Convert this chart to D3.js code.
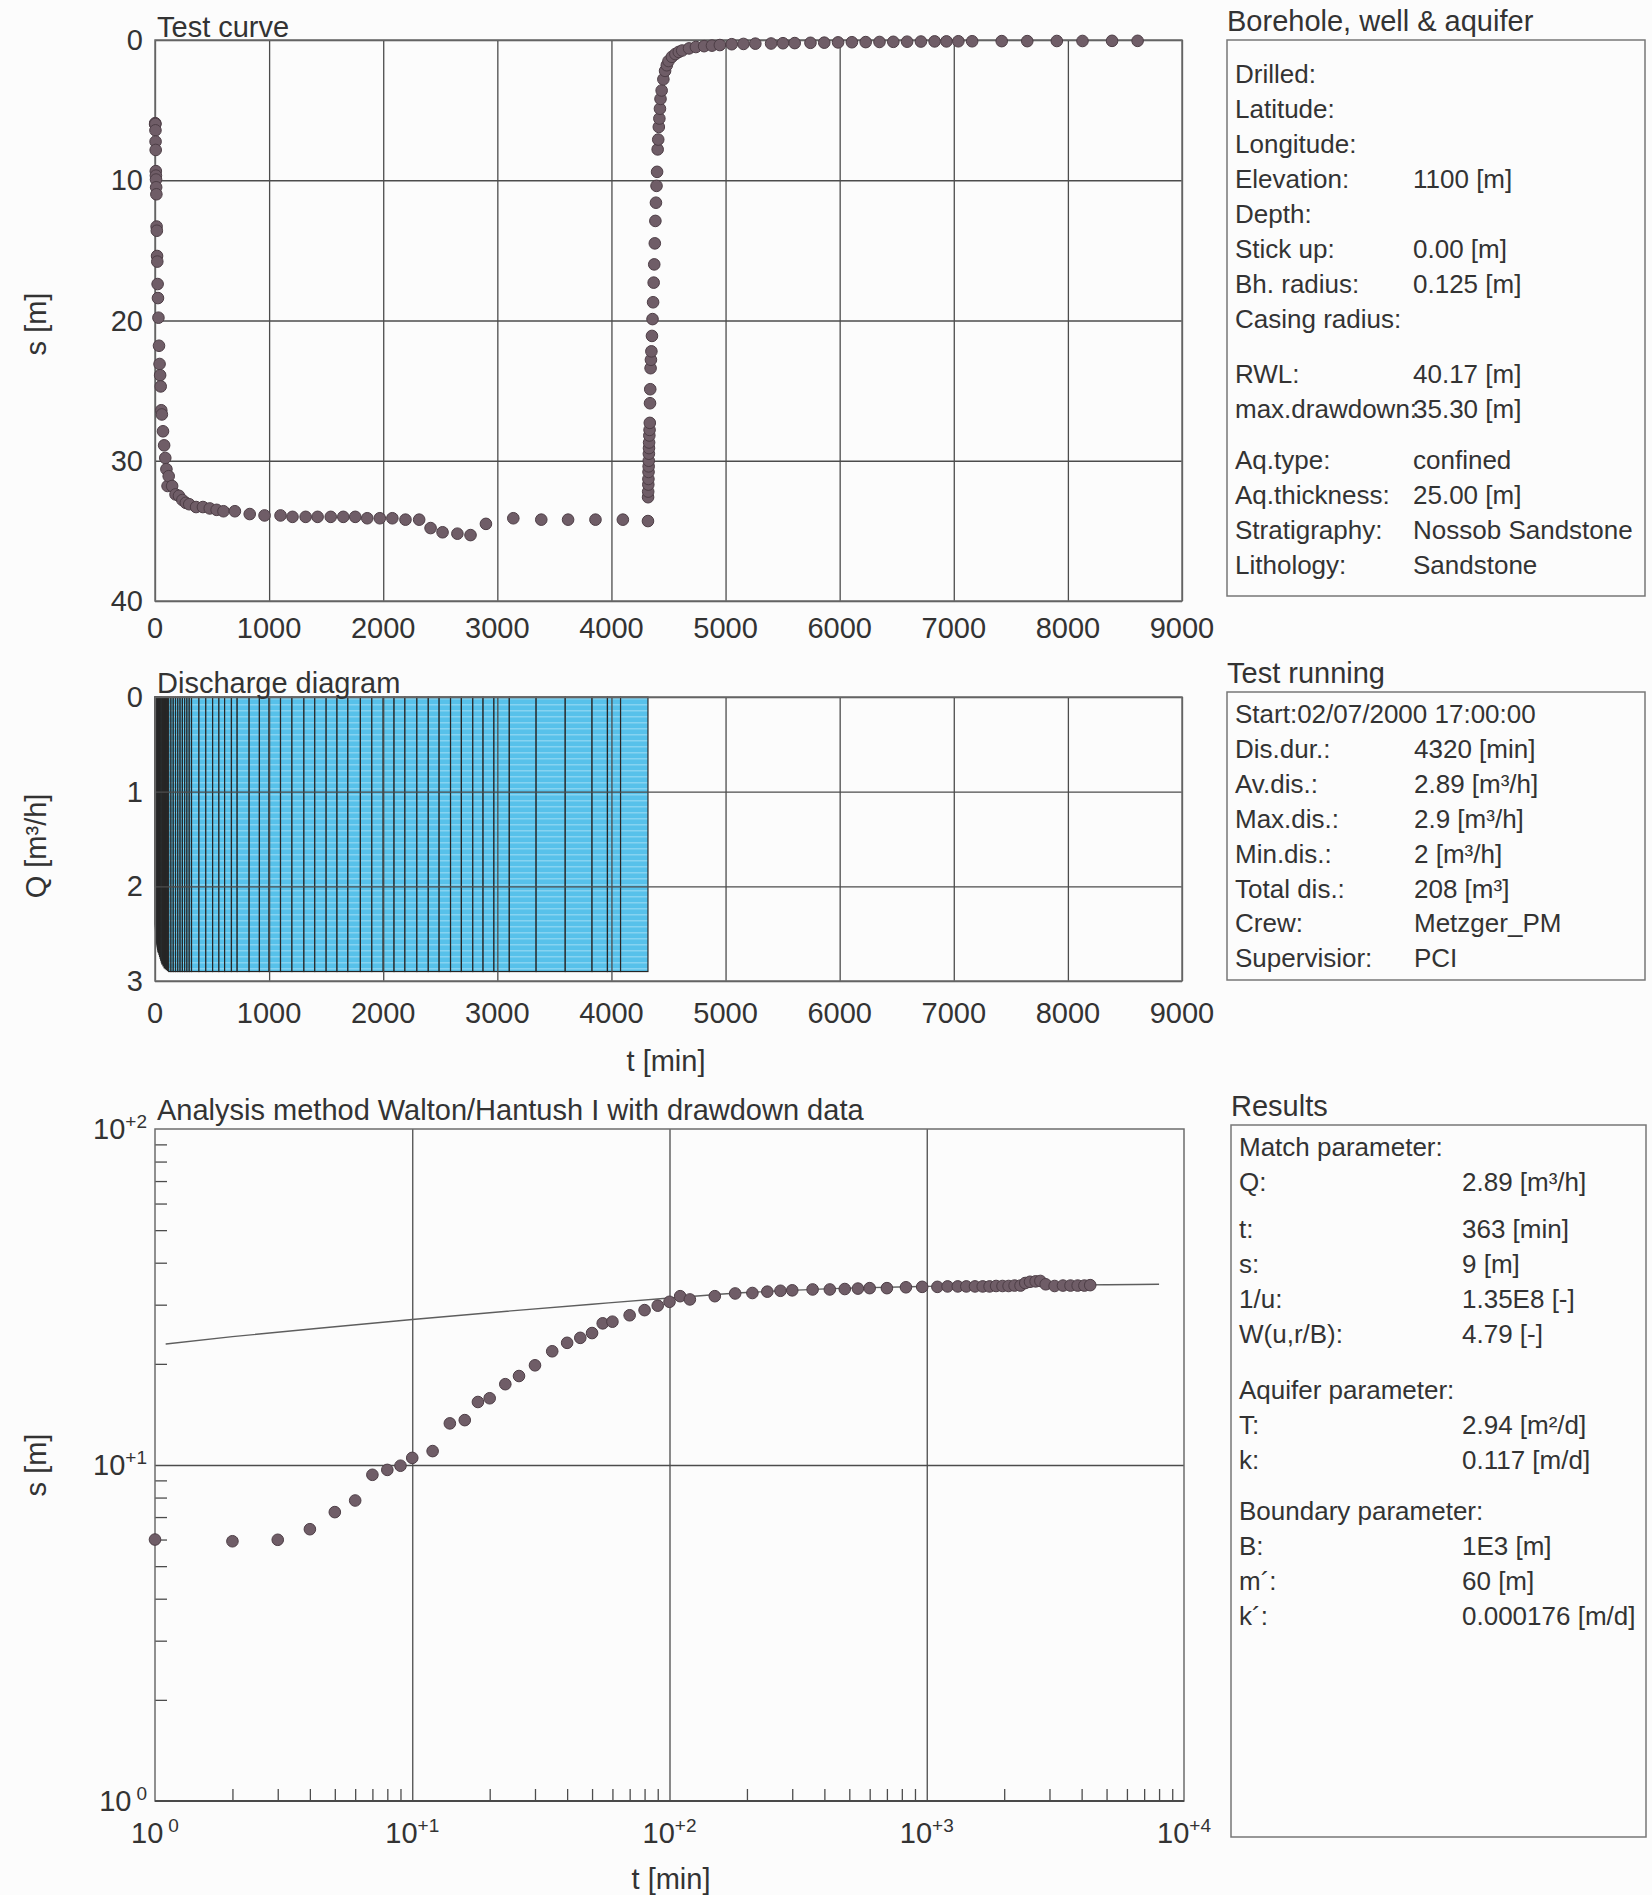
<!DOCTYPE html>
<html>
<head>
<meta charset="utf-8">
<script src="https://cdn.jsdelivr.net/npm/d3@7"></script>
<style>
  html, body { margin: 0; padding: 0; background: #fcfcfc; }
  svg { display: block; }
  text { font-family: Arial, "Liberation Sans", sans-serif; fill: #333; }
</style>
</head>
<body>
<svg id="sheet" width="1652" height="1895"></svg>
<script>
// ---------------- data ----------------
// drawdown during pumping: time [min], drawdown s [m]
const pumpTime = [1,2,3,4,5,6,7,8,9,10,12,14,16,18,20,23,26,30,35,40,45,50,55,60,
  70,80,90,100,110,120,150,180,210,240,270,300,360,420,480,540,600,700,830,960,
  1100,1205,1320,1425,1540,1650,1755,1860,1970,2080,2195,2315,2415,2520,2650,2765,
  2900,3140,3385,3620,3860,4100,4320];
const pumpDrawdown = [6.0,5.93,5.99,6.44,7.24,7.84,9.35,9.67,9.95,10.5,11.0,13.3,13.6,15.4,15.8,
  17.4,18.4,19.8,21.8,23.1,23.9,24.7,26.4,26.7,27.9,28.9,29.8,30.6,31.8,31.1,
  31.8,32.4,32.5,32.8,33.0,33.1,33.3,33.3,33.4,33.5,33.6,33.6,33.8,33.9,
  33.9,34.0,34.0,34.0,34.0,34.0,34.0,34.1,34.1,34.1,34.2,34.2,34.8,35.1,35.2,35.3,
  34.5,34.1,34.2,34.2,34.2,34.2,34.3];

// residual drawdown during recovery: time [min], s [m]
const recTime = [4321,4322,4323,4324,4325,4326,4327,4328,4329,4330,4332,4334,4336,4338,4340,
  4343,4346,4350,4355,4360,4365,4370,4375,4380,4385,4390,4395,4400,4405,4410,4415,4420,
  4425,4430,4440,4455,4470,4485,4500,4530,4560,4590,4620,4680,4740,
  4812,4881,4950,5054,5157,5261,5399,5503,5606,5744,5865,5986,6107,6228,6349,6470,
  6591,6712,6832,6936,7040,7161,7420,7644,7903,8128,8387,8611];
const recDrawdown = [32.6,32.2,31.7,31.3,30.8,30.4,30.0,29.5,29.1,28.7,28.2,27.8,27.3,25.9,24.9,
  23.4,22.8,22.2,21.1,19.9,18.7,17.3,16.0,14.5,12.9,11.6,10.4,9.4,7.8,7.1,6.2,5.6,
  4.9,4.2,3.6,2.8,2.2,1.8,1.5,1.2,1.0,0.85,0.75,0.6,0.5,
  0.44,0.4,0.36,0.3,0.28,0.26,0.25,0.23,0.22,0.2,0.19,0.17,0.16,0.15,0.14,0.13,
  0.12,0.11,0.1,0.1,0.09,0.09,0.08,0.08,0.07,0.07,0.06,0.06];

// discharge record: interval boundaries [min] and rate per interval [m³/h]
const qTime = [0,1,2,3,4,5,6,7,8,9,10,12,14,16,18,20,23,26,30,35,40,45,50,55,60,
  70,80,90,100,110,120,140,160,180,200,220,240,260,280,300,320,385,445,505,560,610,670,720,
  825,915,1000,1100,1200,1305,1400,1500,1595,1690,1800,1900,2000,2095,2190,2295,2395,
  2490,2590,2685,2785,2875,2970,3105,3340,3595,3830,3965,4080,4320];
const qRate = [2.0,2.4,2.42,2.44,2.46,2.48,2.5,2.51,2.52,2.53,2.55,2.57,2.59,2.61,2.63,
  2.65,2.67,2.69,2.7,2.72,2.74,2.76,2.78,2.8,2.82,2.84,2.86,2.87,2.88,2.89,
  2.9,2.9,2.9,2.9,2.9,2.9,2.9,2.9,2.9,2.9,2.9,2.9,2.9,2.9,2.9,2.9,2.9,2.9,2.9,2.9,
  2.9,2.9,2.9,2.9,2.9,2.9,2.9,2.9,2.9,2.9,2.9,2.9,2.9,2.9,2.9,2.9,2.9,2.9,2.9,2.9,
  2.9,2.9,2.9,2.9,2.9,2.9,2.9];

// Walton/Hantush type curve fitted to the drawdown
const fitTime = [1.1,2,5,10,20,50,100,200,500,1000,2000,5000,8000];
const fitDrawdown = [22.9,24.1,25.8,27.1,28.4,30.1,31.4,32.6,33.6,34.0,34.3,34.4,34.5];

// axis ticks
const timeTicks = [0,1000,2000,3000,4000,5000,6000,7000,8000,9000];
const drawdownTicks = [0,10,20,30,40];
const rateTicks = [0,1,2,3];
const logTimeTicks = [1,10,100,1000,10000];
const logTimeMinor = [2,3,4,5,6,7,8,9,20,30,40,50,60,70,80,90,
  200,300,400,500,600,700,800,900,2000,3000,4000,5000,6000,7000,8000,9000];
const logDrawdownTicks = [1,10,100];
const logDrawdownMinor = [2,3,4,5,6,7,8,9,20,30,40,50,60,70,80,90];

// info panels
const boreholeRows = [
  [["Drilled:",""],["Latitude:",""],["Longitude:",""],["Elevation:","1100 [m]"],["Depth:",""],
   ["Stick up:","0.00 [m]"],["Bh. radius:","0.125 [m]"],["Casing radius:",""]],
  [["RWL:","40.17 [m]"],["max.drawdown:","35.30 [m]"]],
  [["Aq.type:","confined"],["Aq.thickness:","25.00 [m]"],["Stratigraphy:","Nossob Sandstone"],["Lithology:","Sandstone"]]
];
const testRows = [
  [["Start:02/07/2000 17:00:00",""],["Dis.dur.:","4320 [min]"],["Av.dis.:","2.89 [m³/h]"],
   ["Max.dis.:","2.9 [m³/h]"],["Min.dis.:","2 [m³/h]"],["Total dis.:","208 [m³]"],
   ["Crew:","Metzger_PM"],["Supervisior:","PCI"]]
];
const resultRows = [
  [["Match parameter:",""],["Q:","2.89 [m³/h]"]],
  [["t:","363 [min]"],["s:","9 [m]"],["1/u:","1.35E8 [-]"],["W(u,r/B):","4.79 [-]"]],
  [["Aquifer parameter:",""],["T:","2.94 [m²/d]"],["k:","0.117 [m/d]"]],
  [["Boundary parameter:",""],["B:","1E3 [m]"],["m´:","60 [m]"],["k´:","0.000176 [m/d]"]]
];

// ---------------- drawing ----------------
const svg = d3.select("#sheet");
const GRID = "#4c4c4c", FRAME = "#6c6c6c", DOT = "#6f5d67", DOT_EDGE = "#4d3e46";
const TICK_FONT = 29, TITLE_FONT = 29, ROW_FONT = 26;

// light horizontal banding inside the discharge bars
const pat = svg.append("defs").append("pattern").attr("id", "cyanBand")
  .attr("patternUnits", "userSpaceOnUse").attr("width", 8).attr("height", 6);
pat.append("rect").attr("width", 8).attr("height", 6).attr("fill", "#57c1ea");
pat.append("rect").attr("y", 2).attr("width", 8).attr("height", 1.5).attr("fill", "#86d3f1");

const pumping = pumpTime.map((t, i) => ({t, s: pumpDrawdown[i]}));
const recovery = recTime.map((t, i) => ({t, s: recDrawdown[i]}));

function styleGrid(g) {
  g.select(".domain").remove();
  g.selectAll(".tick line").attr("stroke", GRID).attr("stroke-width", 1.3);
}

function frame(g, x0, y0, x1, y1, w) {
  g.append("rect").attr("x", x0).attr("y", y0).attr("width", x1 - x0).attr("height", y1 - y0)
    .attr("fill", "none").attr("stroke", FRAME).attr("stroke-width", w || 1.5);
}

function yTitle(text, cx, cy) {
  svg.append("text").attr("transform", `translate(${cx},${cy}) rotate(-90)`)
    .attr("text-anchor", "middle").attr("dominant-baseline", "central")
    .attr("font-size", TICK_FONT).text(text);
}

function dots(g, data, xs, ys) {
  g.selectAll("circle").data(data).join("circle")
    .attr("cx", d => xs(d.t)).attr("cy", d => ys(d.s)).attr("r", 5.8)
    .attr("fill", DOT).attr("stroke", DOT_EDGE).attr("stroke-width", 1);
}

// ---- test curve (linear) ----
const xT = d3.scaleLinear().domain([0, 9000]).range([155, 1182]);
const yT = d3.scaleLinear().domain([0, 40]).range([40, 601]);
const gT = svg.append("g");
gT.append("g").attr("transform", `translate(0,${yT(40)})`)
  .call(d3.axisBottom(xT).tickValues(timeTicks).tickSize(-(yT(40) - yT(0))).tickFormat(""))
  .call(styleGrid);
gT.append("g").attr("transform", `translate(${xT(0)},0)`)
  .call(d3.axisLeft(yT).tickValues(drawdownTicks).tickSize(-(xT(9000) - xT(0))).tickFormat(""))
  .call(styleGrid);
frame(gT, xT(0), yT(0), xT(9000), yT(40));
gT.selectAll("text.xl").data(timeTicks).join("text").attr("class", "xl")
  .attr("x", d => xT(d)).attr("y", yT(40) + 27).attr("text-anchor", "middle")
  .attr("dominant-baseline", "central").attr("font-size", TICK_FONT).text(d => d);
gT.selectAll("text.yl").data(drawdownTicks).join("text").attr("class", "yl")
  .attr("x", xT(0) - 12).attr("y", d => yT(d)).attr("text-anchor", "end")
  .attr("dominant-baseline", "central").attr("font-size", TICK_FONT).text(d => d);
gT.append("text").attr("x", xT(0) + 2).attr("y", yT(0) - 3).attr("font-size", TITLE_FONT).text("Test curve");
dots(gT, pumping.concat(recovery), xT, yT);
yTitle("s [m]", 36, 324);

// ---- discharge diagram ----
const xQ = d3.scaleLinear().domain([0, 9000]).range([155, 1182]);
const yQ = d3.scaleLinear().domain([0, 3]).range([697, 981]);
const gQ = svg.append("g");
const intervals = qRate.map((q, i) => ({t0: qTime[i], t1: qTime[i + 1], q}));
gQ.selectAll("rect.bar").data(intervals).join("rect").attr("class", "bar")
  .attr("x", d => xQ(d.t0)).attr("width", d => xQ(d.t1) - xQ(d.t0))
  .attr("y", yQ(0)).attr("height", d => yQ(d.q) - yQ(0))
  .attr("fill", "url(#cyanBand)").attr("stroke", "#262626").attr("stroke-width", 1.2);
gQ.append("g").attr("transform", `translate(0,${yQ(3)})`)
  .call(d3.axisBottom(xQ).tickValues(timeTicks).tickSize(-(yQ(3) - yQ(0))).tickFormat(""))
  .call(styleGrid);
gQ.append("g").attr("transform", `translate(${xQ(0)},0)`)
  .call(d3.axisLeft(yQ).tickValues(rateTicks).tickSize(-(xQ(9000) - xQ(0))).tickFormat(""))
  .call(styleGrid);
frame(gQ, xQ(0), yQ(0), xQ(9000), yQ(3));
gQ.selectAll("text.xl").data(timeTicks).join("text").attr("class", "xl")
  .attr("x", d => xQ(d)).attr("y", yQ(3) + 32).attr("text-anchor", "middle")
  .attr("dominant-baseline", "central").attr("font-size", TICK_FONT).text(d => d);
gQ.selectAll("text.yl").data(rateTicks).join("text").attr("class", "yl")
  .attr("x", xQ(0) - 12).attr("y", d => yQ(d)).attr("text-anchor", "end")
  .attr("dominant-baseline", "central").attr("font-size", TICK_FONT).text(d => d);
gQ.append("text").attr("x", xQ(0) + 2).attr("y", yQ(0) - 4).attr("font-size", TITLE_FONT).text("Discharge diagram");
gQ.append("text").attr("x", 666).attr("y", 1061).attr("text-anchor", "middle")
  .attr("dominant-baseline", "central").attr("font-size", TICK_FONT).text("t [min]");
yTitle("Q [m³/h]", 36, 846);

// ---- log-log analysis ----
const xL = d3.scaleLog().domain([1, 10000]).range([155, 1184]);
const yL = d3.scaleLog().domain([1, 100]).range([1801, 1129]);
const gL = svg.append("g");
gL.append("g").attr("transform", `translate(0,${yL(1)})`)
  .call(d3.axisBottom(xL).tickValues([10, 100, 1000]).tickSize(-(yL(1) - yL(100))).tickFormat(""))
  .call(styleGrid);
gL.append("g").attr("transform", `translate(${xL(1)},0)`)
  .call(d3.axisLeft(yL).tickValues([10]).tickSize(-(xL(10000) - xL(1))).tickFormat(""))
  .call(styleGrid);
gL.append("g").attr("transform", `translate(0,${yL(1)})`)
  .call(d3.axisBottom(xL).tickValues(logTimeMinor).tickSize(-12).tickFormat(""))
  .call(styleGrid);
gL.append("g").attr("transform", `translate(${xL(1)},0)`)
  .call(d3.axisLeft(yL).tickValues(logDrawdownMinor).tickSize(-12).tickFormat(""))
  .call(styleGrid);
frame(gL, xL(1), yL(100), xL(10000), yL(1));
gL.append("line").attr("x1", xL(1)).attr("x2", xL(10000)).attr("y1", yL(1)).attr("y2", yL(1))
  .attr("stroke", "#4a4a4a").attr("stroke-width", 2.2);

function powerLabel(sel, v) {
  const e = Math.round(Math.log10(v));
  sel.append("tspan").text("10");
  sel.append("tspan").attr("font-size", 19).attr("dy", -11).attr("dx", e === 0 ? 5 : 0)
    .text(e === 0 ? "0" : "+" + e);
}
gL.selectAll("text.xl").data(logTimeTicks).join("text").attr("class", "xl")
  .attr("x", d => xL(d)).attr("y", yL(1) + 42).attr("text-anchor", "middle")
  .attr("font-size", TICK_FONT).each(function (d) { powerLabel(d3.select(this), d); });
gL.selectAll("text.yl").data(logDrawdownTicks).join("text").attr("class", "yl")
  .attr("x", xL(1) - 8).attr("y", d => yL(d) + 10).attr("text-anchor", "end")
  .attr("font-size", TICK_FONT).each(function (d) { powerLabel(d3.select(this), d); });
gL.append("text").attr("x", xL(1) + 2).attr("y", yL(100) - 9).attr("font-size", TITLE_FONT)
  .text("Analysis method Walton/Hantush I with drawdown data");
gL.append("text").attr("x", 671).attr("y", 1879).attr("text-anchor", "middle")
  .attr("dominant-baseline", "central").attr("font-size", TICK_FONT).text("t [min]");
yTitle("s [m]", 36, 1465);

const fit = fitTime.map((t, i) => ({t, s: fitDrawdown[i]}));
gL.append("path").datum(fit)
  .attr("d", d3.line().x(d => xL(d.t)).y(d => yL(d.s)).curve(d3.curveMonotoneX))
  .attr("fill", "none").attr("stroke", "#5e5e5e").attr("stroke-width", 1.4);
dots(gL, pumping, xL, yL);

// ---- info panels ----
function infoPanel(title, box, groups, firstY, step, gaps, valueX) {
  const g = svg.append("g");
  g.append("text").attr("x", box.x).attr("y", box.y - 9).attr("font-size", TITLE_FONT).text(title);
  g.append("rect").attr("x", box.x).attr("y", box.y).attr("width", box.w).attr("height", box.h)
    .attr("fill", "none").attr("stroke", "#777").attr("stroke-width", 1.5);
  let y = firstY;
  groups.forEach((rows, gi) => {
    rows.forEach(([label, value]) => {
      g.append("text").attr("x", box.x + 8).attr("y", y).attr("dominant-baseline", "central")
        .attr("font-size", ROW_FONT).text(label);
      if (value) g.append("text").attr("x", valueX).attr("y", y).attr("dominant-baseline", "central")
        .attr("font-size", ROW_FONT).text(value);
      y += step;
    });
    y += gaps[gi] || 0;
  });
}
infoPanel("Borehole, well & aquifer", {x: 1227, y: 40, w: 418, h: 556}, boreholeRows, 74, 35, [20, 16], 1413);
infoPanel("Test running", {x: 1227, y: 692, w: 418, h: 288}, testRows, 714, 34.9, [], 1414);
infoPanel("Results", {x: 1231, y: 1125, w: 415, h: 712}, resultRows, 1147, 35, [12, 21, 16], 1462);
</script>
</body>
</html>
